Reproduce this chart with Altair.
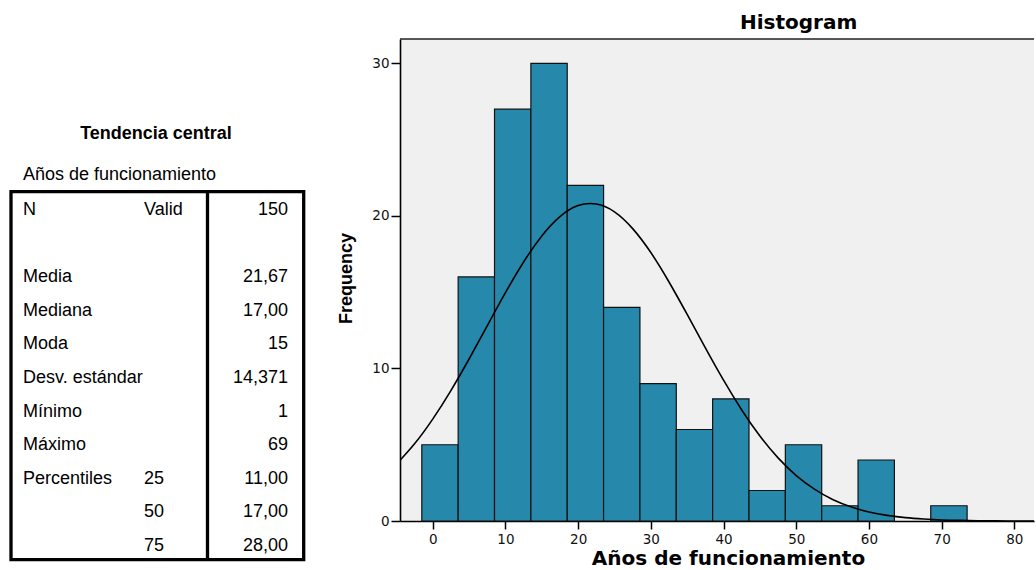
import altair as alt
import pandas as pd

# ---------------- Histogram data ----------------
bin_start = [-1.5, 3.5, 8.5, 13.5, 18.5, 23.5, 28.5, 33.5, 38.5, 43.5, 48.5, 53.5, 58.5, 63.5, 68.5]
bin_end = [3.5, 8.5, 13.5, 18.5, 23.5, 28.5, 33.5, 38.5, 43.5, 48.5, 53.5, 58.5, 63.5, 68.5, 73.5]
counts = [5, 16, 27, 30, 22, 14, 9, 6, 8, 2, 5, 1, 4, 0, 1]

# Normal curve, values
curve_x = [-5, -2.5, 0, 2.5, 5, 7.5, 10, 12.5, 15, 17.5, 20, 22.5, 25, 27.5, 30, 32.5,
           35, 37.5, 40, 42.5, 45, 47.5, 50, 52.5, 55, 57.5, 60, 62.5, 65, 67.5, 70,
           72.5, 75, 77.5, 80, 82.5, 85]
curve_y = [3.72, 5.06, 6.68, 8.55, 10.62, 12.80, 14.97, 16.98, 18.69, 19.96, 20.68, 20.78,
           20.27, 19.17, 17.60, 15.67, 13.54, 11.35, 9.23, 7.28, 5.57, 4.14, 2.98, 2.09,
           1.41, 0.93, 0.59, 0.37, 0.22, 0.13, 0.07, 0.04, 0.02, 0.01, 0.0, 0.0, 0.0]

x_ticks = [0, 10, 20, 30, 40, 50, 60, 70, 80]
y_ticks = [0, 10, 20, 30]

# ---------------- Table data ----------------
table_title = "Tendencia central"
table_subtitle = "Años de funcionamiento"
row_labels = ["N", "", "Media", "Mediana", "Moda", "Desv. estándar", "Mínimo", "Máximo",
              "Percentiles", "", ""]
row_sub = ["Valid", "", "", "", "", "", "", "", "25", "50", "75"]
row_values = ["150", "", "21,67", "17,00", "15", "14,371", "1", "69", "11,00", "17,00", "28,00"]

# ---------------- Table panel ----------------
df_table = pd.DataFrame({
    "row": list(range(len(row_labels))),
    "label": row_labels,
    "sub": row_sub,
    "value": row_values,
})
one = pd.DataFrame({"t": [table_title], "s": [table_subtitle]})

TFONT = "Liberation Sans"
TSIZE = 18
row_y = alt.Y("row:Q", scale=alt.Scale(domain=[-5.238, 9.107], reverse=True, nice=False, zero=False), axis=None)
base = alt.Chart(df_table).encode(y=row_y)

col_label = base.mark_text(align="left", baseline="alphabetic", font=TFONT, fontSize=TSIZE, color="black").encode(
    x=alt.value(23), text="label:N")
col_sub = base.mark_text(align="left", baseline="alphabetic", font=TFONT, fontSize=TSIZE, color="black").encode(
    x=alt.value(144), text="sub:N")
col_val = base.mark_text(align="right", baseline="alphabetic", font=TFONT, fontSize=TSIZE, color="black").encode(
    x=alt.value(288), text="value:N")

t_title = alt.Chart(one).mark_text(align="center", baseline="alphabetic", font=TFONT, fontSize=18,
                                   fontWeight="bold", color="black").encode(
    x=alt.value(156), y=alt.value(100.3), text="t:N")
t_sub = alt.Chart(one).mark_text(align="left", baseline="alphabetic", font=TFONT, fontSize=TSIZE,
                                 color="black").encode(
    x=alt.value(23), y=alt.value(141.3), text="s:N")

box = alt.Chart(one).mark_rect(fillOpacity=0, stroke="black", strokeWidth=3.3).encode(
    x=alt.value(11), x2=alt.value(303.7), y=alt.value(152.7), y2=alt.value(520.7))
divider = alt.Chart(one).mark_rule(color="black", strokeWidth=3.3).encode(
    x=alt.value(207.5), y=alt.value(152.7), y2=alt.value(520.7))
top_anchor = alt.Chart(one).mark_rule(color="white", strokeWidth=1).encode(
    x=alt.value(1), y=alt.value(-38), y2=alt.value(-30))

table = alt.layer(top_anchor, box, divider, t_title, t_sub, col_label, col_sub, col_val).properties(
    width=320, height=482)

# ---------------- Histogram panel ----------------
df_bins = pd.DataFrame({"start": bin_start, "end": bin_end, "count": counts})
df_bins = df_bins[df_bins["count"] > 0]
df_curve = pd.DataFrame({"x": curve_x, "y": curve_y})

xscale = alt.Scale(domain=[-4.5, 82.7], nice=False, zero=False)
yscale = alt.Scale(domain=[0, 31.6], nice=False, zero=False)

x_axis = alt.Axis(values=x_ticks, grid=False, domainColor="black", domainWidth=1.6,
                  tickColor="black", tickSize=8, tickWidth=1.5, labelFont="DejaVu Sans",
                  labelFontSize=13.5, labelColor="#111111", labelPadding=3, labelFlush=False,
                  title="Años de funcionamiento", titleFont="DejaVu Sans", titleFontWeight="bold",
                  titleFontSize=20, titleColor="black", titleX=328, titleY=47,
                  titleBaseline="bottom", titleAlign="center")
y_axis = alt.Axis(values=y_ticks, grid=False, domainColor="black", domainWidth=1.6,
                  tickColor="black", tickSize=9, tickWidth=1.5, labelFont="DejaVu Sans",
                  labelFontSize=13.5, labelColor="#111111", labelPadding=2,
                  title="Frequency", titleFont="Liberation Sans", titleFontWeight="bold",
                  titleFontSize=18, titleColor="black", titleX=-54, titleY=239,
                  titleBaseline="middle", titleAlign="center")

bars = alt.Chart(df_bins).mark_bar(color="#2689AC", stroke="#111111", strokeWidth=1.2).encode(
    x=alt.X("start:Q", scale=xscale, axis=x_axis),
    x2="end:Q",
    y=alt.Y("count:Q", scale=yscale, axis=y_axis),
    y2=alt.datum(0),
)
curve = alt.Chart(df_curve).mark_line(color="black", strokeWidth=1.6, interpolate="natural",
                                      clip=True).encode(
    x=alt.X("x:Q", scale=xscale), y=alt.Y("y:Q", scale=yscale))
top_rule = alt.Chart(one).mark_rule(color="#222222", strokeWidth=1.3).encode(
    x=alt.value(0), x2=alt.value(634), y=alt.value(0))

hist = alt.layer(bars, curve, top_rule).properties(
    width=634, height=482,
    view=alt.ViewBackground(fill="#F0F0F0", stroke=None),
    title=alt.TitleParams("Histogram", anchor="start", frame="group", dx=340, dy=20, offset=9,
                          font="DejaVu Sans", fontWeight="bold", fontSize=20, color="black",
                          baseline="alphabetic"),
)

chart = alt.hconcat(table, hist, spacing=80, bounds="flush").properties(
    padding=0, background="white").configure_view(stroke=None)

chart.save("out.html", embed_options={"renderer": "svg", "actions": False})
